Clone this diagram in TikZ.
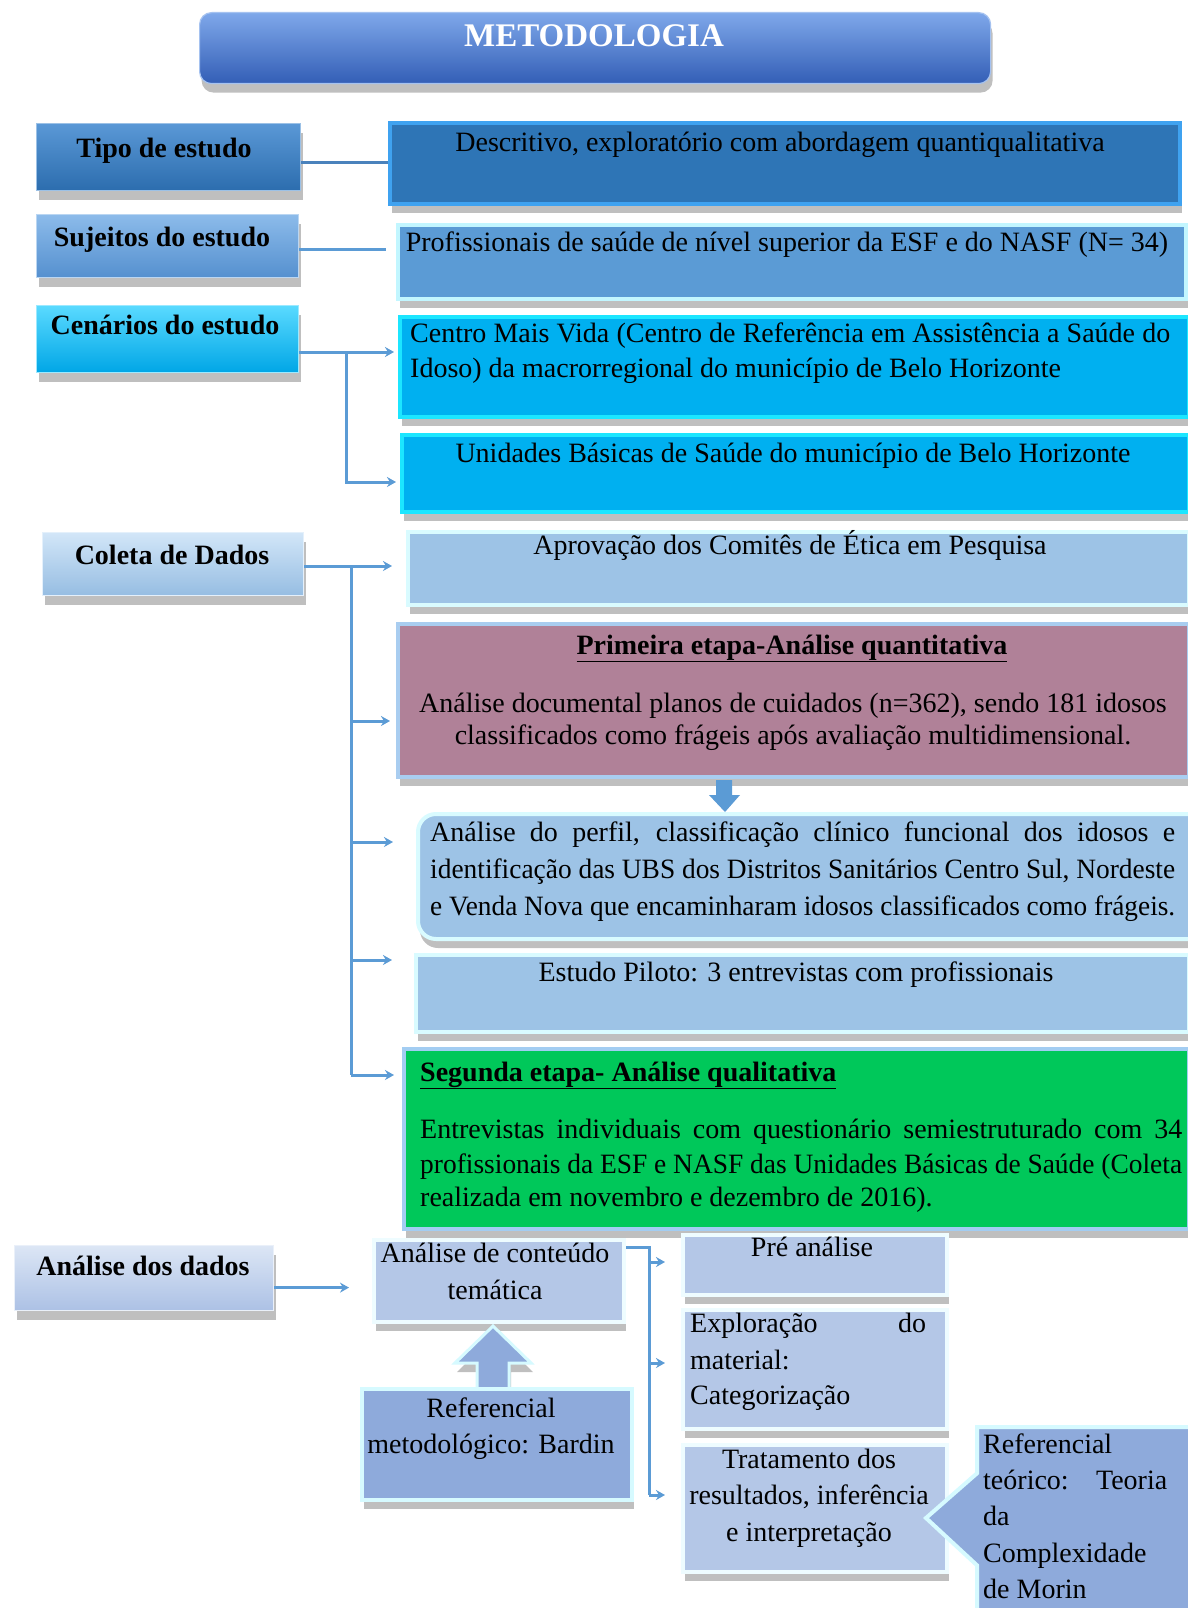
\documentclass[tikz,border=0pt]{standalone}
\usepackage{fontspec}
\usepackage{graphicx}
\setmainfont{Liberation Serif}
\usetikzlibrary{shadows,arrows.meta,shapes.callouts}
\definecolor{lineC}{HTML}{5B9BD5}
\definecolor{lineD}{HTML}{4A82BC}
\definecolor{titA}{HTML}{7FA8EA}
\definecolor{titB}{HTML}{335EB6}
\definecolor{tipoA}{HTML}{5A98D6}
\definecolor{tipoB}{HTML}{2C6DAE}
\definecolor{descF}{HTML}{2E75B6}
\definecolor{descD}{HTML}{3FA2F0}
\definecolor{sujA}{HTML}{8CBBEA}
\definecolor{sujB}{HTML}{5590CF}
\definecolor{profF}{HTML}{5B9BD5}
\definecolor{profD}{HTML}{C2F6FF}
\definecolor{cenA}{HTML}{5ADAFF}
\definecolor{cenB}{HTML}{00A6E6}
\definecolor{cenF}{HTML}{00B0F0}
\definecolor{cenD}{HTML}{1CE6FF}
\definecolor{colA}{HTML}{D2E6F8}
\definecolor{colB}{HTML}{96BDE2}
\definecolor{lbF}{HTML}{9DC3E6}
\definecolor{lbD}{HTML}{D9FBFF}
\definecolor{primF}{HTML}{B08198}
\definecolor{primD}{HTML}{A9CDF0}
\definecolor{segF}{HTML}{00C85A}
\definecolor{segD}{HTML}{A3CDF2}
\definecolor{anA}{HTML}{DCE6F5}
\definecolor{anB}{HTML}{ACC1E5}
\definecolor{paF}{HTML}{B4C7E7}
\definecolor{paD}{HTML}{EEFCFF}
\definecolor{refF}{HTML}{8EAADB}
\definecolor{refD}{HTML}{D6FAFF}
\tikzset{
  shd/.style={drop shadow={shadow xshift=2pt,shadow yshift=-9pt,opacity=0.25,fill=black}},
  lbox/.style={rectangle,anchor=north west,inner sep=0pt,line width=1.2pt,shd},
  rbox/.style={rectangle,anchor=north west,inner sep=0pt,line width=4pt,shd},
  tx/.style={font=\fontsize{28}{32}\selectfont,inner sep=0pt,anchor=base},
  txl/.style={tx,anchor=base west},
  bx/.style={tx,font=\fontsize{28}{32}\selectfont\bfseries},
  link/.style={draw=lineC,line width=3pt},
  arr/.style={link,-{Stealth[length=9pt,width=10pt]}}
}
\newlength\fwlen
\newcommand\fitw[2]{\settowidth\fwlen{#2}%
  \ifdim\fwlen>#1\relax\pgfmathsetmacro\fwr{#1/\fwlen}\scalebox{\fwr}[1]{#2}%
  \else\makebox[#1][s]{#2}\fi}
\newcommand\fitc[2]{\settowidth\fwlen{#2}%
  \ifdim\fwlen>#1\relax\pgfmathsetmacro\fwr{#1/\fwlen}\scalebox{\fwr}[1]{#2}%
  \else #2\fi}
\begin{document}
\begin{tikzpicture}[x=1pt,y=-1pt]
\useasboundingbox[fill=white] (0,0) rectangle (1187,1608);

% ---------- title
\node[lbox,top color=titA,bottom color=titB,draw=titA!70!white,rounded corners=12pt,
  minimum width=791pt,minimum height=71pt] (title) at (199,12) {};
\node[bx,text=white,font=\fontsize{33}{36}\selectfont\bfseries] (titletxt) at (594,47) {METODOLOGIA};

% ---------- left labels
\node[lbox,top color=tipoA,bottom color=tipoB,draw=tipoA!60!white,minimum width=264pt,minimum height=67pt] (tipo) at (36,123) {};
\node[lbox,top color=sujA,bottom color=sujB,draw=sujA!60!white,minimum width=262pt,minimum height=63pt] (suj) at (36,214) {};
\node[lbox,top color=cenA,bottom color=cenB,draw=cenA!60!white,minimum width=262pt,minimum height=67pt] (cen) at (36,305) {};
\node[lbox,top color=colA,bottom color=colB,draw=colA!60!white,minimum width=261pt,minimum height=63pt] (col) at (42,532) {};
\node[lbox,top color=anA,bottom color=anB,draw=anA!60!white,minimum width=259pt,minimum height=65pt] (dad) at (14,1245) {};

\node[bx] (tipotxt) at (164,158) {Tipo de estudo};
\node[bx] (sujtxt) at (162,246) {Sujeitos do estudo};
\node[bx] (centxt) at (165,334) {Cenários do estudo};
\node[bx] (coltxt) at (172,564) {Coleta de Dados};
\node[bx] (dadtxt) at (143,1275) {Análise dos dados};

% ---------- right boxes
\node[rbox,fill=descF,draw=descD,minimum width=790pt,minimum height=81pt] (desc) at (388,121) {};
\node[rbox,fill=profF,draw=profD,minimum width=788pt,minimum height=74pt] (prof) at (396,223) {};
\node[rbox,fill=cenF,draw=cenD,minimum width=789pt,minimum height=100pt] (centro) at (398,315) {};
\node[rbox,fill=cenF,draw=cenD,minimum width=787pt,minimum height=77pt] (unid) at (400,433) {};
\node[rbox,fill=lbF,draw=lbD,minimum width=781pt,minimum height=73pt] (aprov) at (406,530) {};
\node[rbox,fill=primF,draw=primD,minimum width=791pt,minimum height=153pt] (prim) at (396,622) {};
\node[rbox,fill=lbF,draw=lbD,rounded corners=18pt,minimum width=790pt,minimum height=125pt] (perfil) at (416,812) {};
\node[rbox,fill=lbF,draw=lbD,minimum width=773pt,minimum height=77pt] (piloto) at (414,953) {};
\node[rbox,fill=segF,draw=segD,minimum width=785pt,minimum height=180pt] (seg) at (402,1047) {};

% block arrow prim -> perfil
\fill[lineC] (716,780) -- (732,780) -- (732,795) -- (740,795) -- (725,812) -- (709,795) -- (716,795) -- cycle;

% ---------- analysis
\node[rbox,fill=paF,draw=paD,minimum width=250pt,minimum height=82pt] (cont) at (372,1238) {};
\node[rbox,fill=paF,draw=paD,minimum width=264pt,minimum height=60pt] (pre) at (681,1233) {};
\node[rbox,fill=paF,draw=paD,minimum width=264pt,minimum height=119pt] (expl) at (681,1308) {};
\node[rbox,fill=paF,draw=paD,minimum width=264pt,minimum height=127pt] (trat) at (681,1443) {};

% up block arrow Bardin -> conteudo
\filldraw[fill=refF,draw=refD,line width=3pt,shd] (477,1395) -- (477,1363) -- (455,1363) -- (493,1326) -- (531,1363) -- (509,1363) -- (509,1395) -- cycle;
\node[rbox,fill=refF,draw=refD,minimum width=270pt,minimum height=111pt] (bardin) at (360,1387) {};

% callout
\coordinate (tip) at (926,1518);
\node[rectangle callout,anchor=north west,inner sep=0pt,fill=refF,draw=refD,line width=4pt,
  minimum width=214pt,minimum height=190pt,callout absolute pointer={(tip)},callout pointer width=92pt] (teor) at (975,1425) {};

% ---------- texts right
\node[tx] (desctxt) at (780,152) {Descritivo, exploratório com abordagem quantiqualitativa};
\node[tx] (proftxt) at (787,251) {\fitc{765pt}{Profissionais de saúde de nível superior da ESF e do NASF (N= 34)}};
\node[txl] (cent1) at (410,342) {\fitw{760pt}{Centro Mais Vida (Centro de Referência em Assistência a Saúde do}};
\node[txl] (cent2) at (410,377) {Idoso) da macrorregional do município de Belo Horizonte};
\node[tx] (unidtxt) at (793,462) {Unidades Básicas de Saúde do município de Belo Horizonte};
\node[tx] (aprovtxt) at (790,554) {Aprovação dos Comitês de Ética em Pesquisa};
\node[tx] (prim0) at (792,654) {\underline{\textbf{Primeira etapa-Análise quantitativa}}};
\node[tx] (prim1) at (793,712) {\fitc{770pt}{Análise documental planos de cuidados (n=362), sendo 181 idosos}};
\node[tx] (prim2) at (793,744) {classificados como frágeis após avaliação multidimensional.};
\node[txl] (perf1) at (430,841) {\fitw{745pt}{Análise do perfil, classificação clínico funcional dos idosos e}};
\node[txl] (perf2) at (430,878) {\fitw{745pt}{identificação das UBS dos Distritos Sanitários Centro Sul, Nordeste}};
\node[txl] (perf3) at (430,915) {\fitw{745pt}{e Venda Nova que encaminharam idosos classificados como frágeis.}};
\node[tx] (pilototxt) at (796,981) {Estudo Piloto: 3 entrevistas com profissionais};
\node[txl] (seg0) at (420,1081) {\underline{\textbf{Segunda etapa- Análise qualitativa}}};
\node[txl] (seg1) at (420,1138) {\fitw{762pt}{Entrevistas individuais com questionário semiestruturado com 34}};
\node[txl] (seg2) at (420,1173) {\fitw{762pt}{profissionais da ESF e NASF das Unidades Básicas de Saúde (Coleta}};
\node[txl] (seg3) at (420,1206) {realizada em novembro e dezembro de 2016).};

\node[tx] (cont1) at (495,1262) {Análise de conteúdo};
\node[tx] (cont2) at (495,1299) {temática};
\node[tx] (pretxt) at (812,1256) {Pré análise};
\node[txl] (expl1) at (690,1332) {\fitw{236pt}{Exploração\hfill do}};
\node[txl] (expl2) at (690,1369) {material:};
\node[txl] (expl3) at (690,1404) {Categorização};
\node[tx] (trat1) at (809,1468) {Tratamento dos};
\node[tx] (trat2) at (809,1504) {\fitc{250pt}{resultados, inferência}};
\node[tx] (trat3) at (809,1541) {e interpretação};
\node[tx] (bard1) at (491,1417) {Referencial};
\node[tx] (bard2) at (491,1453) {\fitc{255pt}{metodológico: Bardin}};
\node[txl] (teor1) at (983,1453) {Referencial};
\node[txl] (teor2) at (983,1489) {\fitw{184pt}{teórico:\hfill Teoria}};
\node[txl] (teor3) at (983,1525) {da};
\node[txl] (teor4) at (983,1562) {Complexidade};
\node[txl] (teor5) at (983,1598) {de Morin};

% ---------- connectors
\draw[link,draw=lineD] ([yshift=-5pt]tipo.east) -- ([yshift=-5pt]tipo.east -| desc.west);
\draw[link] ([yshift=-3pt]suj.east) -- ([xshift=-10pt,yshift=-3pt]suj.east -| prof.west);

\coordinate (cj) at (346,352);
\coordinate (cj2) at (346,482);
\draw[link] (cen.east |- cj) -- (cj);
\draw[arr] (cj) -- ([xshift=-4pt]cj -| centro.west);
\draw[arr] (cj) -- (cj2) -- ([xshift=-4pt]cj2 -| unid.west);

\coordinate (kj) at (351,566);
\coordinate (k1) at (351,721);
\coordinate (k2) at (351,842);
\coordinate (k3) at (351,960);
\coordinate (k4) at (351,1075);
\draw[link] (col.east |- kj) -- (kj) -- (k4);
\draw[arr] (kj) -- ([xshift=-14pt]kj -| aprov.west);
\draw[arr] (k1) -- ([xshift=-6pt]k1 -| prim.west);
\draw[arr] (k2) -- ([xshift=-23pt]k2 -| perfil.west);
\draw[arr] (k3) -- ([xshift=-22pt]k3 -| piloto.west);
\draw[arr] (k4) -- ([xshift=-8pt]k4 -| seg.west);

\draw[arr] ([yshift=-9.5pt]dad.east) -- ([xshift=-23pt,yshift=-9.5pt]dad.east -| cont.west);

\coordinate (aj) at (649,1247);
\coordinate (a1) at (649,1262);
\coordinate (a2) at (649,1363);
\coordinate (a3) at (649,1495);
\draw[link] (cont.east |- aj) -- (aj) -- (a3);
\draw[arr] (a1) -- ([xshift=-16pt]a1 -| pre.west);
\draw[arr] (a2) -- ([xshift=-16pt]a2 -| expl.west);
\draw[arr] (a3) -- ([xshift=-16pt]a3 -| trat.west);
\end{tikzpicture}
\end{document}
